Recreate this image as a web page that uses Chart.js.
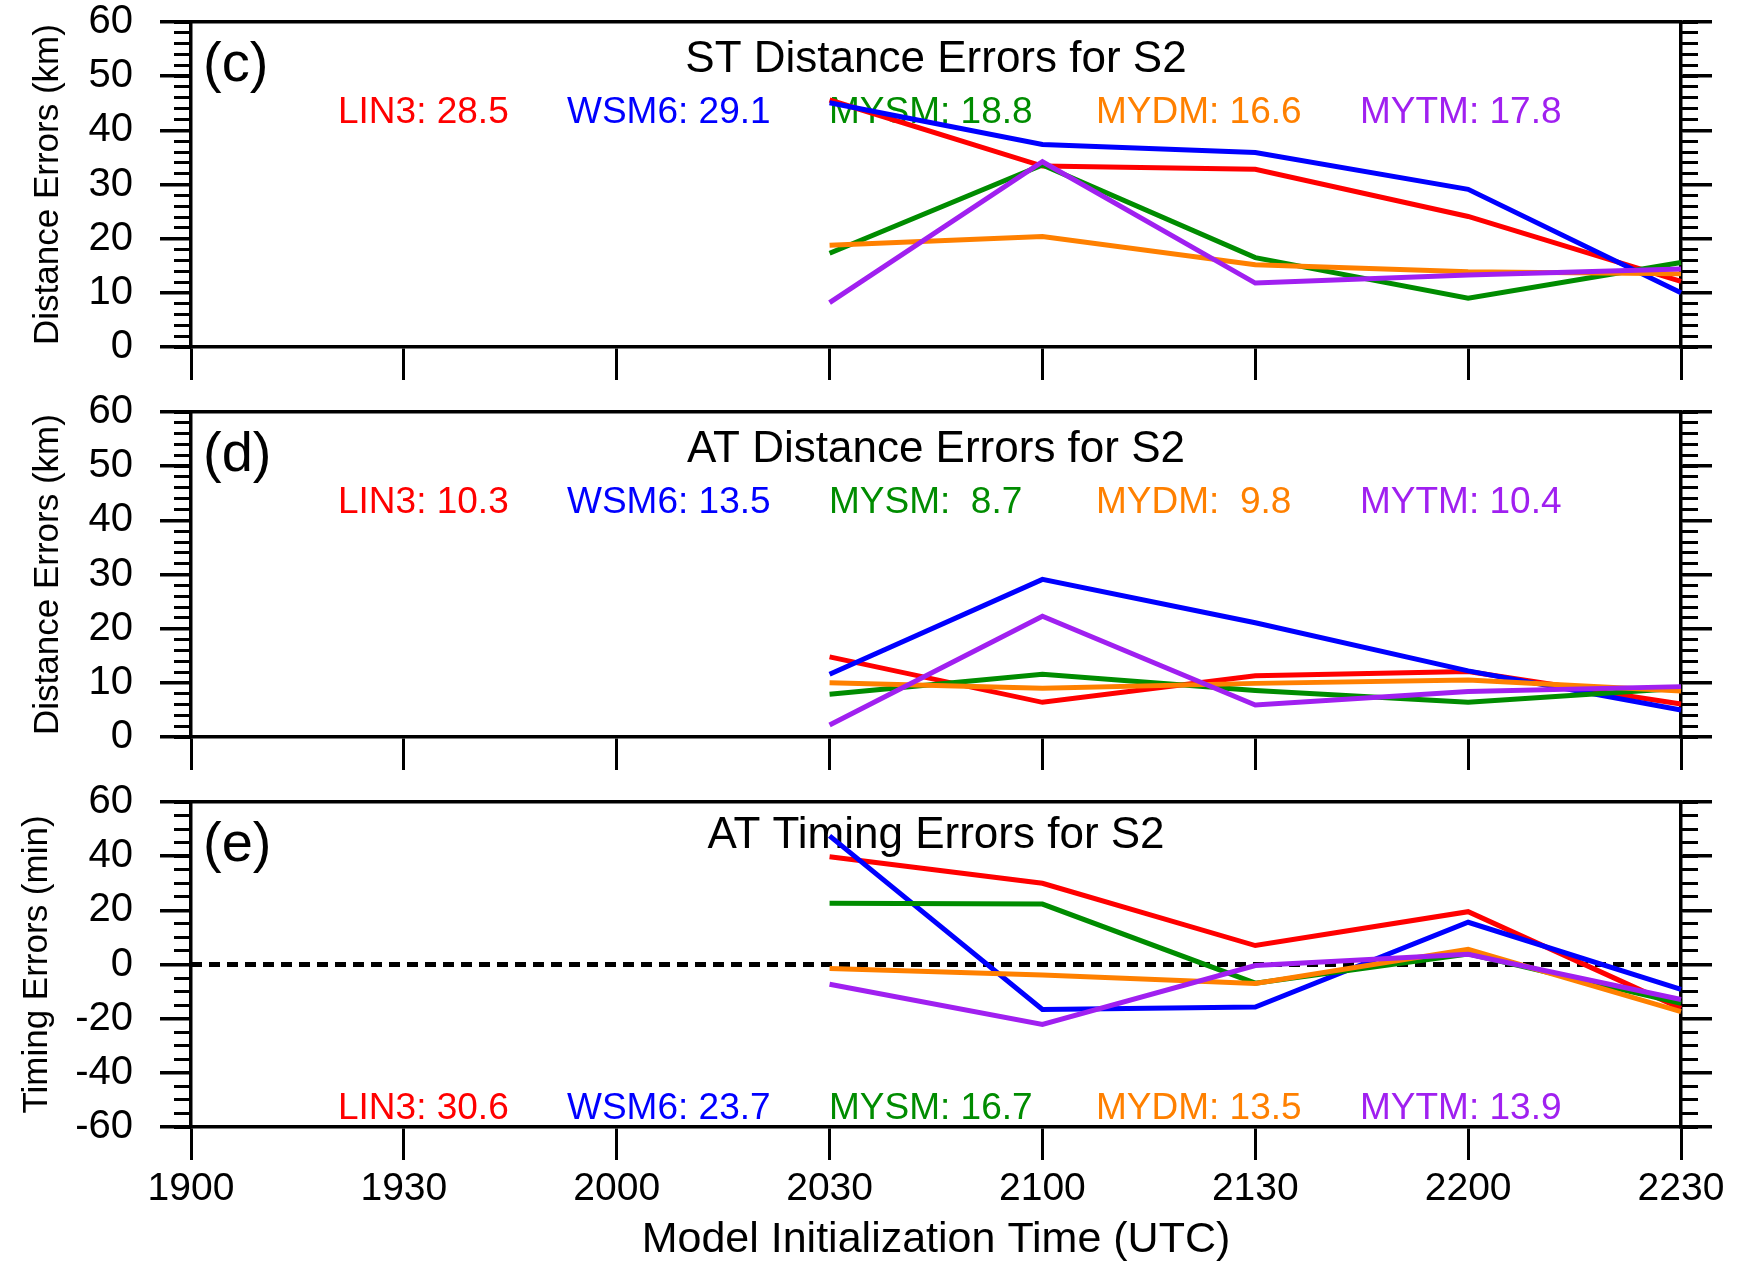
<!DOCTYPE html>
<html>
<head>
<meta charset="utf-8">
<script src="https://cdn.jsdelivr.net/npm/chart.js@4.4.1/dist/chart.umd.min.js"></script>
<style>
  body { margin: 0; background: #fff; }
  #wrap { position: relative; width: 1757px; height: 1266px; }
  canvas { position: absolute; left: 0; }
</style>
</head>
<body>
<div id="wrap">
  <canvas id="panelC" width="1757" height="390" style="top:0"></canvas>
  <canvas id="panelD" width="1757" height="390" style="top:390px"></canvas>
  <canvas id="panelE" width="1757" height="486" style="top:780px"></canvas>
</div>
<script>
const initTimes = ['1900', '1930', '2000', '2030', '2100', '2130', '2200', '2230'];
const runTimes = ['2030', '2100', '2130', '2200', '2230'];
const schemes = ['LIN3', 'WSM6', 'MYSM', 'MYDM', 'MYTM'];
const colors = ['#ff0000', '#0000ff', '#008c00', '#ff8000', '#a020f0'];

// (c) ST distance errors (km)
const lin3St = [45.6, 33.4, 32.8, 24.1, 12.1];
const wsm6St = [45.1, 37.4, 35.9, 29.1, 10.0];
const mysmSt = [17.3, 33.6, 16.5, 9.0, 15.6];
const mydmSt = [18.8, 20.4, 15.2, 13.9, 13.5];
const mytmSt = [8.2, 34.2, 11.8, 13.3, 14.4];
const stMeans = [28.5, 29.1, 18.8, 16.6, 17.8];

// (d) AT distance errors (km)
const lin3At = [14.8, 6.4, 11.3, 12.1, 6.1];
const wsm6At = [11.6, 29.1, 21.1, 12.2, 5.0];
const mysmAt = [7.9, 11.6, 8.6, 6.4, 9.0];
const mydmAt = [10.0, 9.0, 9.9, 10.5, 8.5];
const mytmAt = [2.2, 22.3, 5.9, 8.4, 9.3];
const atMeans = [10.3, 13.5, 8.7, 9.8, 10.4];

// (e) AT timing errors (min)
const lin3Tm = [39.8, 30.0, 7.0, 19.5, -16.2];
const wsm6Tm = [47.5, -16.6, -15.7, 15.6, -9.2];
const mysmTm = [22.6, 22.3, -6.9, 3.9, -14.3];
const mydmTm = [-1.5, -3.9, -7.0, 5.6, -17.4];
const mytmTm = [-7.3, -22.1, -0.4, 3.8, -12.9];
const tmMeans = [30.6, 23.7, 16.7, 13.5, 13.9];
const zeroLine = [0, 0, 0, 0, 0, 0, 0, 0];

const FONT = '"Liberation Sans", Arial, Helvetica, sans-serif';
const BLACK = '#000';
// left edge of each score label, measured from the plot's left side
const statOffsets = [147, 376, 638, 905, 1169];

Chart.defaults.font.family = FONT;
Chart.defaults.color = BLACK;

// vertical box: force its width and drop the label overhang padding
function fixWidth(w) {
  return s => { s.width = w; s.paddingTop = 0; s.paddingBottom = 0; };
}

function yScales(min, max, major, minor, title, titleGap) {
  const tickOpts = { autoSkip: false, maxTicksLimit: 200 };
  return {
    y: {
      position: 'left', weight: 2, min, max,
      ticks: { ...tickOpts, stepSize: major, padding: 27, color: BLACK, font: { size: 40 } },
      grid: { drawOnChartArea: false, color: BLACK, lineWidth: 3.5, tickLength: 31 },
      border: { color: BLACK, width: 3.5 },
      title: { display: true, text: title, color: BLACK, font: { size: 35 }, padding: { top: titleGap, bottom: 0 } },
      afterFit: fixWidth(191)
    },
    yMinor: {
      position: 'left', weight: 1, min, max,
      ticks: { ...tickOpts, stepSize: minor, display: false },
      grid: { drawOnChartArea: false, color: BLACK, lineWidth: 3, tickLength: 17 },
      border: { display: false },
      afterFit: fixWidth(0)
    },
    yRight: {
      position: 'right', weight: 2, min, max,
      ticks: { ...tickOpts, stepSize: major, display: false },
      grid: { drawOnChartArea: false, color: BLACK, lineWidth: 3.5, tickLength: 31 },
      border: { color: BLACK, width: 3.5 },
      afterFit: fixWidth(76)
    },
    yRightMinor: {
      position: 'right', weight: 1, min, max,
      ticks: { ...tickOpts, stepSize: minor, display: false },
      grid: { drawOnChartArea: false, color: BLACK, lineWidth: 3, tickLength: 17 },
      border: { display: false },
      afterFit: fixWidth(0)
    }
  };
}

function xScales(showLabels, height) {
  return {
    x: {
      type: 'category', position: 'bottom', offset: false,
      ticks: { display: showLabels, autoSkip: false, maxRotation: 0, padding: 6, color: BLACK, font: { size: 39 } },
      grid: { drawOnChartArea: false, color: BLACK, lineWidth: 3, tickLength: 33 },
      border: { color: BLACK, width: 3.5 },
      title: {
        display: showLabels, text: 'Model Initialization Time (UTC)',
        color: BLACK, font: { size: 43 }, padding: 0
      },
      afterFit: s => { s.height = height; }
    },
    xTop: {
      type: 'category', position: 'top', offset: false,
      ticks: { display: false },
      grid: { drawOnChartArea: false, drawTicks: false },
      border: { color: BLACK, width: 3.5 },
      afterFit: s => { s.height = 0; }
    }
  };
}

function lineSets(series) {
  return series.map((vals, i) => ({
    label: schemes[i],
    data: runTimes.map((t, j) => ({ x: t, y: vals[j] })),
    borderColor: colors[i],
    borderWidth: 5,
    pointRadius: 0,
    tension: 0,
    fill: false,
    order: series.length - i
  }));
}

// panel tag, title and the mean-error row
function panelText(tag, title, titleY, means, atBottom) {
  return {
    id: 'panelText',
    beforeDatasetsDraw(chart) {
      const { ctx, chartArea: a } = chart;
      ctx.save();
      ctx.textBaseline = 'alphabetic';
      ctx.fillStyle = BLACK;
      ctx.textAlign = 'left';
      ctx.font = `56px ${FONT}`;
      ctx.fillText(tag, a.left + 12, a.top + 59);
      ctx.textAlign = 'center';
      ctx.font = `44px ${FONT}`;
      ctx.fillText(title, (a.left + a.right) / 2, a.top + titleY);
      ctx.textAlign = 'left';
      ctx.font = `37px ${FONT}`;
      const y = atBottom ? a.bottom - 8 : a.top + 101;
      means.forEach((m, i) => {
        ctx.fillStyle = colors[i];
        ctx.fillText(`${schemes[i]}: ${m.toFixed(1).padStart(4, ' ')}`, a.left + statOffsets[i], y);
      });
      ctx.restore();
    }
  };
}

function makePanel(id, cfg) {
  return new Chart(document.getElementById(id), {
    type: 'line',
    data: { labels: initTimes, datasets: cfg.datasets },
    options: {
      responsive: false,
      animation: false,
      devicePixelRatio: 1,
      events: [],
      layout: { padding: { top: 22, left: 0, right: 0, bottom: 0 } },
      plugins: { legend: { display: false }, tooltip: { enabled: false } },
      scales: { ...cfg.xs, ...cfg.ys }
    },
    plugins: [cfg.text]
  });
}

makePanel('panelC', {
  datasets: lineSets([lin3St, wsm6St, mysmSt, mydmSt, mytmSt]),
  xs: xScales(false, 43),
  ys: yScales(0, 60, 10, 2, 'Distance Errors (km)', 27),
  text: panelText('(c)', 'ST Distance Errors for S2', 50, stMeans, false)
});

makePanel('panelD', {
  datasets: lineSets([lin3At, wsm6At, mysmAt, mydmAt, mytmAt]),
  xs: xScales(false, 43),
  ys: yScales(0, 60, 10, 2, 'Distance Errors (km)', 27),
  text: panelText('(d)', 'AT Distance Errors for S2', 50, atMeans, false)
});

makePanel('panelE', {
  datasets: lineSets([lin3Tm, wsm6Tm, mysmTm, mydmTm, mytmTm]).concat([{
    label: 'zero',
    data: zeroLine,
    borderColor: BLACK,
    borderWidth: 5,
    borderDash: [11, 7],
    pointRadius: 0,
    fill: false,
    order: 10
  }]),
  xs: xScales(true, 139),
  ys: yScales(-60, 60, 20, 5, 'Timing Errors (min)', 16),
  text: panelText('(e)', 'AT Timing Errors for S2', 46, tmMeans, true)
});
</script>
</body>
</html>
